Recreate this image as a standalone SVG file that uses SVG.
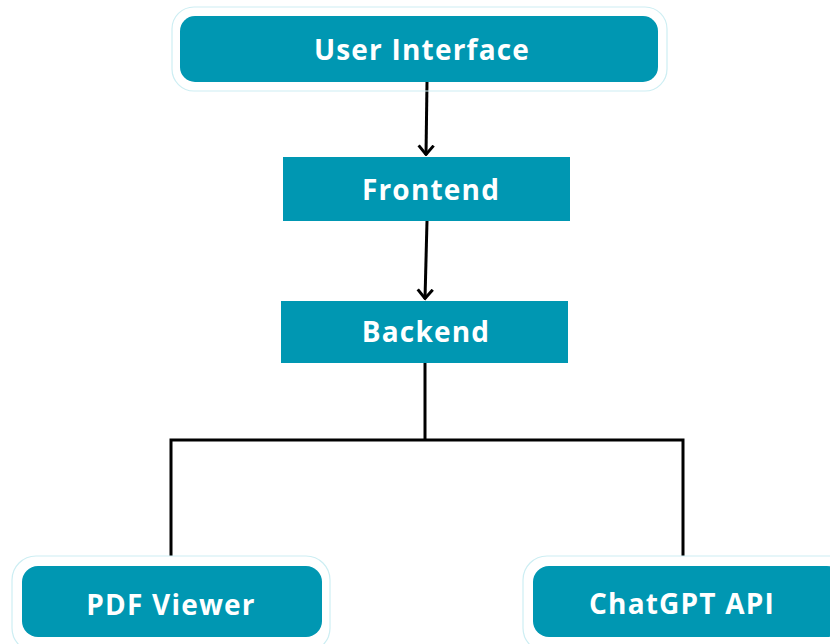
<svg xmlns="http://www.w3.org/2000/svg" width="830" height="644" viewBox="0 0 830 644">
  <style>
    .box { fill: #0097B2; }
    .halo { fill: none; stroke: #cdeef3; stroke-width: 1.2; }
    .label { fill: #ffffff; font-family: "Open Sans", "Liberation Sans", sans-serif; font-weight: 700; font-size: 28px; letter-spacing: 1.2px; text-anchor: middle; dominant-baseline: central; }
    .wire { fill: none; stroke: #000000; stroke-width: 3; }
  </style>
  <defs>
    <marker id="arrow" viewBox="0 0 12 18" refX="10.5" refY="9" markerWidth="12" markerHeight="18" markerUnits="userSpaceOnUse" orient="auto">
      <path d="M1,1.5 L10,9 L1,16.5" fill="none" stroke="#000" stroke-width="3" stroke-linejoin="miter"/>
    </marker>
  </defs>
  <rect width="830" height="644" fill="#ffffff"/>

  <g id="connectors">
    <line class="wire" x1="427" y1="82" x2="426" y2="155" marker-end="url(#arrow)"/>
    <line class="wire" x1="427" y1="221" x2="425" y2="299" marker-end="url(#arrow)"/>
    <polyline class="wire" points="425,363 425,440"/>
    <polyline class="wire" points="171,556 171,440 683,440 683,556"/>
  </g>

  <g id="user-interface">
    <rect class="halo" x="172" y="7" width="495" height="84" rx="22"/>
    <rect class="box" x="180" y="16" width="478" height="66" rx="15"/>
    <text class="label" x="422" y="49">User Interface</text>
  </g>

  <g id="frontend">
    <rect class="box" x="283" y="157" width="287" height="64"/>
    <text class="label" x="431" y="189">Frontend</text>
  </g>

  <g id="backend">
    <rect class="box" x="281" y="301" width="287" height="62"/>
    <text class="label" x="426" y="331">Backend</text>
  </g>

  <g id="pdf-viewer">
    <rect class="halo" x="12" y="556" width="318" height="96" rx="24"/>
    <rect class="box" x="22" y="566" width="300" height="71" rx="16"/>
    <text class="label" x="171" y="604">PDF Viewer</text>
  </g>

  <g id="chatgpt-api">
    <rect class="halo" x="523" y="556" width="330" height="96" rx="24"/>
    <rect class="box" x="533" y="566" width="310" height="71" rx="16"/>
    <text class="label" x="682" y="603">ChatGPT API</text>
  </g>
</svg>
